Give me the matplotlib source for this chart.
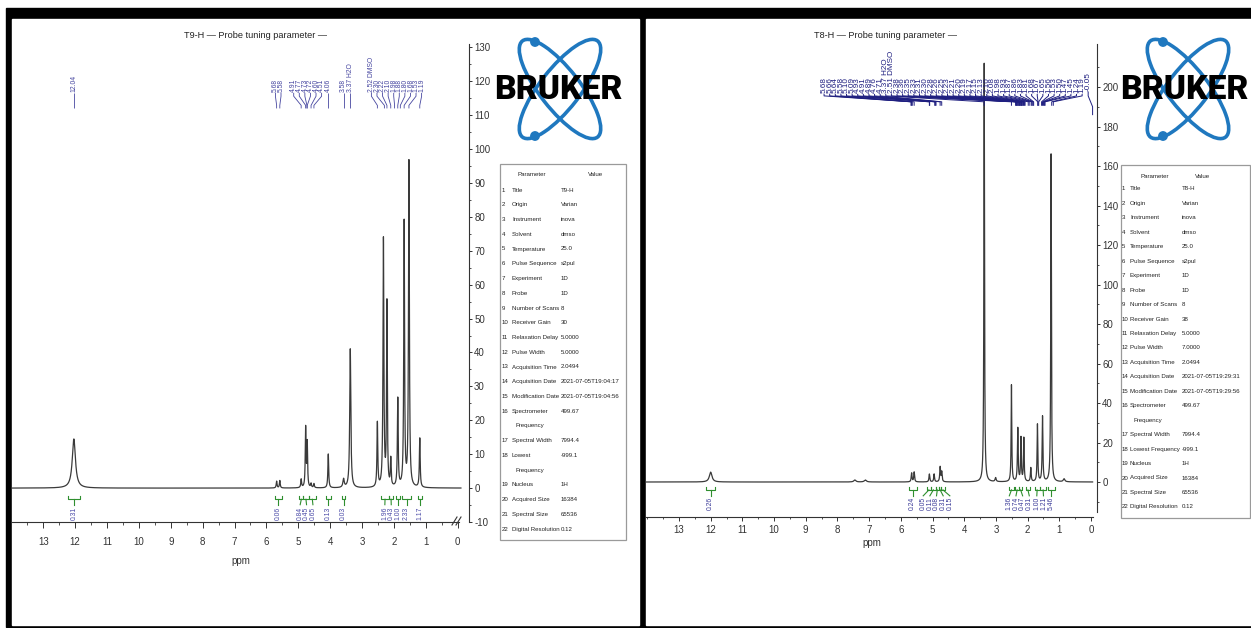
import numpy as np
import matplotlib
matplotlib.use("Agg")
import matplotlib.pyplot as plt
from matplotlib import font_manager
from matplotlib.patches import Rectangle, Ellipse, Circle
from matplotlib.ticker import MultipleLocator

W, H = 1251, 628

_names = {f.name for f in font_manager.fontManager.ttflist}
BASE = "Liberation Sans Narrow" if "Liberation Sans Narrow" in _names else "Liberation Sans"
LOGO_FONT = "Roboto" if "Roboto" in _names else "DejaVu Sans"
plt.rcParams["font.family"] = [BASE, "DejaVu Sans"]
plt.rcParams["axes.unicode_minus"] = False

# ---------------- data: left spectrum (T9-H) ----------------
left_title = "T9-H \u2014 Probe tuning parameter \u2014"
left_ppm = [12.04, 5.68, 5.58, 4.91, 4.77, 4.72, 4.60, 4.51, 4.06, 3.58, 3.37,
            2.52, 2.33, 2.22, 2.10, 1.88, 1.68, 1.53, 1.19]
left_height = [14.5, 2.0, 2.2, 2.5, 17.5, 13.0, 1.2, 1.2, 10.0, 2.5, 41.0,
               19.0, 73.0, 54.0, 8.0, 26.0, 78.0, 96.0, 14.5]
left_width = [0.06, 0.015, 0.015, 0.015, 0.014, 0.014, 0.015, 0.015, 0.015, 0.025, 0.02,
              0.015, 0.016, 0.014, 0.014, 0.015, 0.015, 0.016, 0.015]
left_peak_labels = ["12.04", "5.68", "5.58", "4.91", "4.77", "4.73", "4.72", "4.60", "4.51",
                    "4.06", "3.58", "3.37", "2.52", "2.30", "2.22", "2.10", "1.98", "1.88",
                    "1.80", "1.68", "1.53", "1.19"]
left_tags = {"3.37": "H2O", "2.52": "DMSO"}
left_int_labels = ["0.31", "0.06", "0.84", "0.45", "0.65", "0.13", "0.03",
                   "1.96", "0.43", "1.00", "2.33", "1.17"]
left_int_from = [12.22, 5.74, 4.97, 4.84, 4.66, 4.14, 3.64, 2.40, 2.14, 1.93, 1.76, 1.26]
left_int_to = [11.86, 5.52, 4.84, 4.68, 4.46, 3.99, 3.52, 2.16, 2.04, 1.82, 1.45, 1.12]
left_params_values = ["T9-H", "Varian", "inova", "dmso", "25.0", "s2pul", "1D", "1D", "8", "30",
                      "5.0000", "5.0000", "2.0494", "2021-07-05T19:04:17",
                      "2021-07-05T19:04:56", "499.67", "7994.4", "-999.1", "1H",
                      "16384", "65536", "0.12"]

# ---------------- data: right spectrum (T8-H) ----------------
right_title = "T8-H \u2014 Probe tuning parameter \u2014"
right_ppm = [12.00, 7.45, 7.12, 5.66, 5.58, 5.10, 4.95, 4.76, 4.71, 3.37, 3.01,
             2.51, 2.31, 2.21, 2.12, 1.90, 1.69, 1.53, 1.26, 0.85]
right_height = [5.0, 1.0, 1.0, 4.5, 5.0, 4.0, 4.0, 7.5, 5.0, 212.0, 2.0,
                49.0, 27.0, 22.0, 22.0, 7.0, 29.0, 33.0, 166.0, 1.5]
right_width = [0.05, 0.04, 0.04, 0.015, 0.015, 0.015, 0.015, 0.015, 0.015, 0.012, 0.02,
               0.012, 0.014, 0.013, 0.013, 0.014, 0.013, 0.014, 0.012, 0.03]
right_peak_labels = ["5.68", "5.66", "5.64", "5.58", "5.10", "5.09", "4.93", "4.91", "4.89",
                     "4.76", "4.71", "3.37", "2.51", "2.38", "2.36", "2.35", "2.33", "2.31",
                     "2.30", "2.28", "2.26", "2.25", "2.23", "2.21", "2.20", "2.19", "2.17",
                     "2.15", "2.13", "2.10", "2.08", "1.98", "1.93", "1.87", "1.86", "1.83",
                     "1.81", "1.68", "1.67", "1.65", "1.56", "1.53", "1.50", "1.47", "1.45",
                     "1.24", "1.19"]
right_tags = {"3.37": "H2O", "2.51": "DMSO"}
right_extra_label = "-0.05"
right_int_labels = ["0.26", "0.24", "0.05", "0.11", "0.08", "0.31", "0.15",
                    "1.36", "0.74", "0.47", "0.31", "1.00", "1.21", "5.46"]
right_int_from = [12.15, 5.75, 5.18, 5.05, 4.90, 4.80, 4.72, 2.60, 2.40, 2.26, 2.06, 1.78, 1.60, 1.36]
right_int_to = [11.85, 5.50, 5.05, 4.90, 4.80, 4.72, 4.62, 2.42, 2.26, 2.18, 1.92, 1.62, 1.42, 1.15]
right_params_values = ["T8-H", "Varian", "inova", "dmso", "25.0", "s2pul", "1D", "1D", "8", "38",
                       "5.0000", "7.0000", "2.0494", "2021-07-05T19:29:31",
                       "2021-07-05T19:29:56", "499.67", "7994.4", "-999.1", "1H",
                       "16384", "65536", "0.12"]

param_names = ["Title", "Origin", "Instrument", "Solvent", "Temperature", "Pulse Sequence",
               "Experiment", "Probe", "Number of Scans", "Receiver Gain", "Relaxation Delay",
               "Pulse Width", "Acquisition Time", "Acquisition Date", "Modification Date",
               "Spectrometer Frequency", "Spectral Width", "Lowest Frequency", "Nucleus",
               "Acquired Size", "Spectral Size", "Digital Resolution"]

LINE = "#3a3a3a"
AXC = "#333333"
GREEN = "#2f8f2f"
TICK_FS = 7.0


def lorentz_sum(x, ppm, height, width):
    y = np.zeros_like(x)
    for p, a, g in zip(ppm, height, width):
        y += a * g ** 2 / ((x - p) ** 2 + g ** 2)
    return y


def spread(vals, gap, lo=None):
    # vals in descending order; push labels apart, groups centred on their mean
    groups = [[v] for v in vals]

    def layout(g):
        c = np.mean(g)
        n = len(g)
        return [c + gap * ((n - 1) / 2 - k) for k in range(n)]

    merged = True
    while merged:
        merged = False
        for i in range(len(groups) - 1):
            if layout(groups[i])[-1] - layout(groups[i + 1])[0] < gap:
                groups[i] = groups[i] + groups[i + 1]
                del groups[i + 1]
                merged = True
                break
    pos = np.array([p for g in groups for p in layout(g)])
    if lo is not None and pos.min() < lo:
        pos += lo - pos.min()
    return pos


fig = plt.figure(figsize=(W / 100, H / 100), dpi=100)
fig.patch.set_facecolor("white")


def px_axes(x0, y0, x1, y1, z):
    return fig.add_axes([x0 / W, 1 - y1 / H, (x1 - x0) / W, (y1 - y0) / H], zorder=z)


bg = px_axes(0, 0, W, H, 0)
bg.set_xlim(0, W)
bg.set_ylim(H, 0)
bg.axis("off")
bg.add_patch(Rectangle((6, 8), W - 6, 619, color="black"))
bg.add_patch(Rectangle((12, 19), 627, 606, color="white"))
bg.add_patch(Rectangle((646, 19), W - 646, 606, color="white"))


def setup(box, xlim, ylim, yticks, yminor, ybounds, xpad, xlen):
    ax = px_axes(*box, 2)
    ax.set_xlim(*xlim)
    ax.set_ylim(*ylim)
    ax.patch.set_alpha(0)
    ax.spines["top"].set_visible(False)
    ax.spines["left"].set_visible(False)
    for s in ("bottom", "right"):
        ax.spines[s].set_color(AXC)
        ax.spines[s].set_linewidth(0.8)
    ax.spines["right"].set_bounds(*ybounds)
    ax.spines["bottom"].set_bounds(xlim[0], -0.05)
    ax.yaxis.tick_right()
    ax.set_xticks(range(0, 14))
    ax.xaxis.set_minor_locator(MultipleLocator(0.5))
    ax.set_yticks(yticks)
    ax.set_yticks(yminor, minor=True)
    ax.tick_params(axis="x", which="major", direction="out", length=xlen, width=0.7,
                   colors=AXC, labelsize=TICK_FS, pad=xpad)
    ax.tick_params(axis="x", which="minor", direction="out", length=xlen * 0.55, width=0.6, colors=AXC)
    ax.tick_params(axis="y", which="major", direction="out", length=2.5, width=0.7,
                   colors=AXC, labelsize=TICK_FS, pad=1.2)
    ax.tick_params(axis="y", which="minor", direction="out", length=1.5, width=0.6, colors=AXC)
    return ax


def peak_labels(ax, labels, tags, pos, ys, color, fs, lw):
    ytext, ya, yb, yc, yd = ys
    for lab, p in zip(labels, pos):
        v = float(lab)
        ax.plot([p, p, v, v], [ya, yb, yc, yd], color=color, lw=lw, solid_capstyle="butt")
        txt = lab + (" " + tags[lab] if lab in tags else "")
        ax.text(p, ytext, txt, rotation=90, ha="center", va="bottom", fontsize=fs, color=color)


def integrals(ax, labels, a_list, b_list, gap, ys, color, fs):
    ybr, dy, ystem, ytext = ys
    mids = [(a + b) / 2 for a, b in zip(a_list, b_list)]
    pos = spread(mids, gap)
    for lab, a, b, m, p in zip(labels, a_list, b_list, mids, pos):
        ax.plot([a, a, b, b], [ybr + dy, ybr, ybr, ybr + dy], color=GREEN, lw=0.8)
        ax.plot([m, p], [ybr, ystem], color=GREEN, lw=0.8)
        ax.text(p, ytext, lab, rotation=90, ha="center", va="top", fontsize=fs, color=color)


# ---------------- left panel ----------------
axL = setup((12, 44, 469, 522), (13.98, -0.354), (-10, 131),
            list(range(-10, 131, 10)), list(range(-5, 131, 10)), (-10, 131), 6.5, 4.0)
xl = np.linspace(13.98, -0.1, 40000)
axL.plot(xl, lorentz_sum(xl, left_ppm, left_height, left_width), color=LINE, lw=0.9)
axL.set_xlabel("ppm", fontsize=TICK_FS, color=AXC, labelpad=7)
lpos = spread([float(s) for s in left_peak_labels], 0.175)
peak_labels(axL, left_peak_labels, left_tags, lpos, (116.8, 116.6, 115.6, 112.9, 112.0),
            "#4646a0", 4.9, 0.6)
integrals(axL, left_int_labels, left_int_from, left_int_to, 0.2,
          (-3.3, 0.9, -4.9, -5.4), "#4a4aa8", 4.9)

# ---------------- right panel ----------------
axR = setup((646, 43, 1097, 517), (14.04, -0.189), (-17.72, 222.28),
            list(range(0, 201, 20)), list(range(-10, 221, 20)), (-15, 222), 3.0, 3.0)
xr = np.linspace(14.04, -0.05, 40000)
axR.plot(xr, lorentz_sum(xr, right_ppm, right_height, right_width), color=LINE, lw=0.9)
axR.set_xlabel("ppm", fontsize=TICK_FS, color=AXC, labelpad=2)
rpos = spread([float(s) for s in right_peak_labels], 0.177, lo=0.28)
peak_labels(axR, right_peak_labels, right_tags, rpos, (197.0, 196.5, 195.5, 192.5, 190.5),
            "#1f1f80", 5.9, 0.7)
axR.plot([0.09, 0.09, -0.05, -0.05], [197.5, 195.5, 190.0, 186.0], color="#1f1f80", lw=0.7)
axR.text(0.09, 198.0, right_extra_label, rotation=90, ha="center", va="bottom",
         fontsize=5.9, color="#1f1f80")
integrals(axR, right_int_labels, right_int_from, right_int_to, 0.21,
          (-4.0, 1.5, -7.0, -7.6), "#3a3a98", 4.9)

# ---------------- overlay: titles, logos, tables ----------------
ov = px_axes(0, 0, W, H, 3)
ov.set_xlim(0, W)
ov.set_ylim(H, 0)
ov.axis("off")
renderer = fig.canvas.get_renderer()

ov.text(256, 35, left_title, ha="center", va="center", fontsize=6.6, color="#222")
ov.text(885, 35, right_title, ha="center", va="center", fontsize=6.6, color="#222")

# axis break on the left panel
for dx in (0, 4):
    ov.plot([452 + dx, 457 + dx], [525, 517], color=AXC, lw=0.8)


def logo(cx, cy, tx):
    blue = "#1f78bf"
    for ang in (52, -52):
        ov.add_patch(Ellipse((cx, cy), 122, 40, angle=ang, fill=False, ec=blue, lw=2.6))
    for dy in (-47, 47):
        ov.add_patch(Circle((cx - 25, cy + dy), 4.2, color=blue))
    t = ov.text(tx, cy + 1, "BRUKER", ha="center", va="center", fontsize=20,
                fontweight="black", family=[LOGO_FONT, "DejaVu Sans"], color="black", zorder=5)
    w = t.get_window_extent(renderer).width
    t.set_fontsize(20 * 128 / w)


logo(560, 89, 558)
logo(1188, 89, 1184)


def widest(strings, fs):
    best = 0
    for s in strings:
        t = ov.text(0, 0, s, fontsize=fs)
        best = max(best, t.get_window_extent(renderer).width)
        t.remove()
    return best


def table(box, cols, first, step, values, wraps, fs0):
    x0, y0, x1, y1 = box
    xnum, xname, xval, hpar, hval = cols
    name_parts = []
    for name in param_names:
        name_parts += name.split(" ", 1) if name in wraps else [name]
    fs = min(fs0,
             fs0 * (xval - xname - 2) / widest(name_parts, fs0),
             fs0 * (x1 - xval - 1) / widest(values, fs0))
    ov.add_patch(Rectangle((x0, y0), x1 - x0, y1 - y0, fill=False, ec="#9a9a9a", lw=0.9))
    ov.text(hpar, y0 + 11, "Parameter", ha="center", va="center", fontsize=fs, color="#222")
    ov.text(hval, y0 + 11, "Value", ha="center", va="center", fontsize=fs, color="#222")
    line = 0
    for i, (name, val) in enumerate(zip(param_names, values)):
        y = first + step * line
        ov.text(xnum, y, str(i + 1), ha="left", va="center", fontsize=fs, color="#222")
        if name in wraps:
            a, b = name.split(" ", 1)
            ov.text(xname, y, a, ha="left", va="center", fontsize=fs, color="#222")
            ov.text(xname + 4, y + step, b, ha="left", va="center", fontsize=fs, color="#222")
            line += 1
        else:
            ov.text(xname, y, name, ha="left", va="center", fontsize=fs, color="#222")
        ov.text(xval, y, val, ha="left", va="center", fontsize=fs, color="#222")
        line += 1


table((500, 164, 626, 540), (502, 512, 561, 532, 596), 190, 14.75, left_params_values,
      ("Spectrometer Frequency", "Lowest Frequency"), 5.8)
table((1121, 165, 1250, 518), (1122, 1130, 1182, 1155, 1203), 189, 14.45, right_params_values,
      ("Spectrometer Frequency",), 5.8)

fig.savefig("out.png", dpi=100, facecolor=fig.get_facecolor())
